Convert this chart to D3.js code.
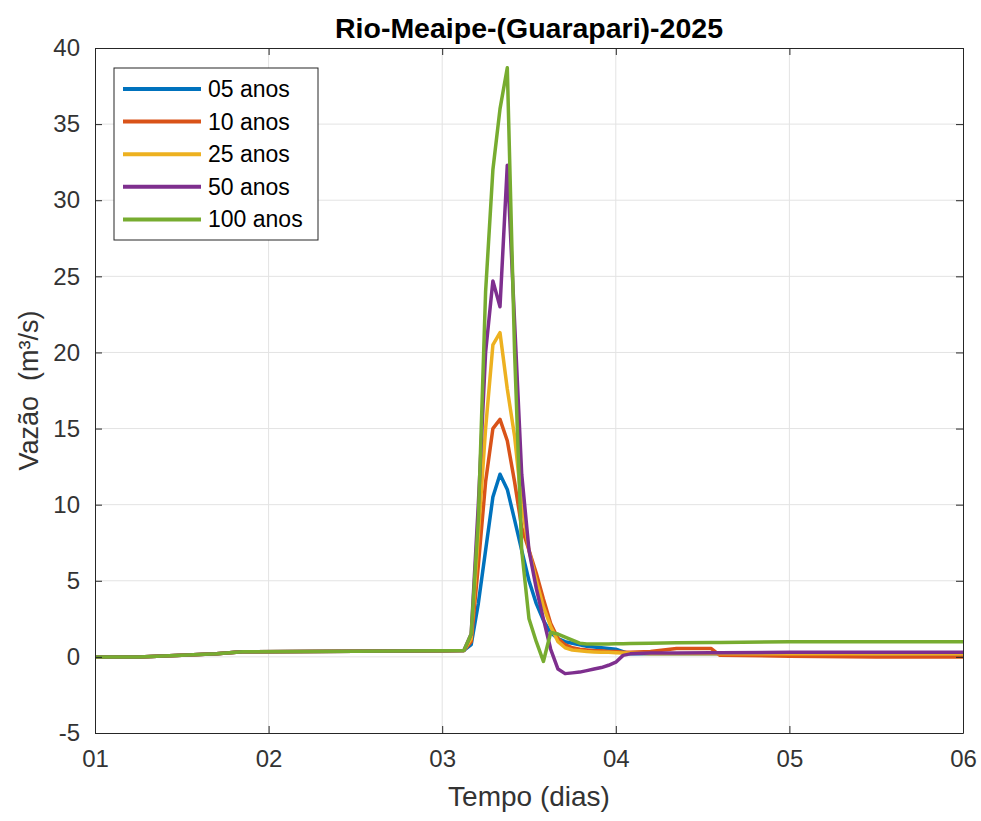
<!DOCTYPE html>
<html><head><meta charset="utf-8">
<script src="https://cdn.jsdelivr.net/npm/d3@7"></script>
<style>body{margin:0;background:#fff;} text{font-family:"Liberation Sans",Arial,Helvetica,sans-serif;}</style>
</head><body>
<svg id="c" width="981" height="821"></svg>
<script>
const dias = [1.0,1.25,1.5,1.7,1.85,2.5,3.0,3.125,3.167,3.208,3.25,3.292,3.333,3.375,3.417,3.458,3.5,3.542,3.583,3.625,3.667,3.708,3.75,3.792,3.833,3.875,3.917,3.958,4.0,4.042,4.083,4.2,4.35,4.55,4.6,5.0,5.5,6.0];
const anos05  = [0,0,0.1,0.2,0.33,0.37,0.4,0.42,0.8,3.5,7.0,10.5,12.0,11.0,9.0,7.0,5.0,3.5,2.4,1.6,1.2,1.0,0.9,0.8,0.7,0.65,0.6,0.55,0.5,0.35,0.2,0.2,0.2,0.2,0.2,0.2,0.2,0.2];
const anos10  = [0,0,0.1,0.2,0.33,0.37,0.4,0.42,1.0,6.0,11.5,15.0,15.6,14.2,11.5,8.5,7.0,5.5,3.8,2.2,1.2,0.8,0.6,0.5,0.45,0.4,0.4,0.35,0.35,0.3,0.3,0.35,0.55,0.55,0.1,0.05,0.0,0.0];
const anos25  = [0,0,0.1,0.2,0.33,0.37,0.4,0.42,1.2,8.0,15.0,20.5,21.3,17.6,14.5,10.0,7.0,5.0,3.3,2.0,1.0,0.6,0.45,0.4,0.35,0.32,0.3,0.3,0.28,0.25,0.25,0.2,0.2,0.2,0.2,0.2,0.2,0.2];
const anos50  = [0,0,0.1,0.2,0.33,0.37,0.4,0.42,1.5,10.0,20.0,24.7,23.0,32.3,22.0,12.0,7.0,4.5,2.5,0.5,-0.8,-1.1,-1.05,-1.0,-0.9,-0.8,-0.7,-0.55,-0.35,0.1,0.2,0.25,0.25,0.28,0.28,0.3,0.3,0.3];
const anos100 = [0,0,0.1,0.2,0.33,0.37,0.4,0.42,1.5,9.0,24.0,32.0,36.0,38.7,20.0,7.0,2.5,1.0,-0.3,1.6,1.5,1.3,1.1,0.9,0.85,0.85,0.85,0.85,0.86,0.87,0.88,0.9,0.93,0.95,0.95,1.0,1.0,1.0];
const seriesNames = ["05 anos","10 anos","25 anos","50 anos","100 anos"];
const seriesValues = [anos05, anos10, anos25, anos50, anos100];
const colors = ["#0072BD","#D95319","#EDB120","#7E2F8E","#77AC30"];
const xTicks = [1,2,3,4,5,6];
const xTickLabels = ["01","02","03","04","05","06"];
const yTicks = [-5,0,5,10,15,20,25,30,35,40];

const svg = d3.select("#c");
const L=95, T=48, R=963, B=733;
const x = d3.scaleLinear().domain([1,6]).range([L,R]);
const y = d3.scaleLinear().domain([-5,40]).range([B,T]);
const axisCol = "#262626";

// grid
svg.append("g").selectAll("line").data(xTicks.slice(1,-1)).join("line")
  .attr("x1",d=>x(d)).attr("x2",d=>x(d)).attr("y1",T).attr("y2",B)
  .attr("stroke","#e3e3e3").attr("stroke-width",1);
svg.append("g").selectAll("line").data(yTicks.slice(1,-1)).join("line")
  .attr("y1",d=>y(d)).attr("y2",d=>y(d)).attr("x1",L).attr("x2",R)
  .attr("stroke","#e3e3e3").attr("stroke-width",1);

// lines
const line = d3.line().x((d,i)=>x(dias[i])).y(d=>y(d));
seriesValues.forEach((vals,k)=>{
  svg.append("path").datum(vals).attr("d",line).attr("fill","none")
    .attr("stroke",colors[k]).attr("stroke-width",3.5).attr("stroke-linejoin","round");
});

// axes
const ax = svg.append("g").attr("transform",`translate(0,${B})`)
  .call(d3.axisBottom(x).tickValues(xTicks).tickFormat((d,i)=>xTickLabels[i]).tickSizeInner(-7).tickSizeOuter(0).tickPadding(18));
const ay = svg.append("g").attr("transform",`translate(${L},0)`)
  .call(d3.axisLeft(y).tickValues(yTicks).tickFormat(d=>String(d)).tickSizeInner(-7).tickSizeOuter(0).tickPadding(15));
const axT = svg.append("g").attr("transform",`translate(0,${T})`)
  .call(d3.axisTop(x).tickValues(xTicks).tickFormat("").tickSizeInner(-7).tickSizeOuter(0));
const ayR = svg.append("g").attr("transform",`translate(${R},0)`)
  .call(d3.axisRight(y).tickValues(yTicks).tickFormat("").tickSizeInner(-7).tickSizeOuter(0));
[ax,ay,axT,ayR].forEach(g=>{
  g.selectAll("path").attr("stroke",axisCol).attr("stroke-width",1);
  g.selectAll("line").attr("stroke",axisCol).attr("stroke-width",1);
  g.selectAll("text").attr("fill","#333").attr("font-size","24px")
   .attr("font-family","'Liberation Sans',Arial,sans-serif");
});
ax.selectAll("text").attr("dy","0.65em");

// title & labels
svg.append("text").attr("x",(L+R)/2).attr("y",38).attr("text-anchor","middle")
  .attr("font-size","28.5px").attr("font-weight","bold").attr("fill","#000").text("Rio-Meaipe-(Guarapari)-2025");
svg.append("text").attr("x",(L+R)/2).attr("y",806).attr("text-anchor","middle")
  .attr("font-size","28px").attr("fill","#333").text("Tempo (dias)");
svg.append("text").attr("transform",`translate(38,${(T+B)/2}) rotate(-90)`).attr("text-anchor","middle")
  .attr("font-size","27px").attr("fill","#333").style("white-space","pre").text("Vazão  (m³/s)");

// legend
const lg = svg.append("g");
lg.append("rect").attr("x",114).attr("y",68).attr("width",204).attr("height",172)
  .attr("fill","#fff").attr("stroke",axisCol).attr("stroke-width",1);
seriesNames.forEach((n,k)=>{
  const yy = 89 + k*32.6;
  lg.append("line").attr("x1",123).attr("x2",201).attr("y1",yy).attr("y2",yy)
    .attr("stroke",colors[k]).attr("stroke-width",4);
  lg.append("text").attr("x",208).attr("y",yy+8).attr("font-size","23px").attr("fill","#000").text(n);
});
</script>
</body></html>
